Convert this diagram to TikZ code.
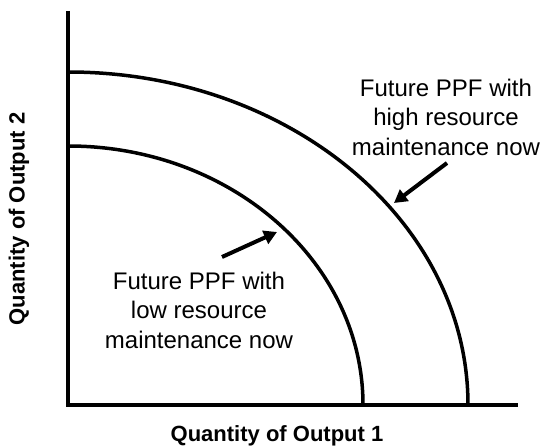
\documentclass[tikz,border=0pt]{standalone}
\usepackage{fontspec}
\setmainfont{Liberation Sans}
\usetikzlibrary{arrows.meta}
\begin{document}
\begin{tikzpicture}[x=1pt,y=1pt,
		axis/.style={line width=4.2pt},
		ppf/.style={line width=3.5pt},
		pointer/.style={line width=4pt,-{Triangle[length=13pt,width=14pt]}},
		note/.style={align=center,inner sep=0pt,font=\fontsize{24}{29.5}\selectfont},
		axislabel/.style={inner sep=0pt,font=\fontsize{22}{26}\selectfont\bfseries}]
	\useasboundingbox (0,0) rectangle (541,446);

	\coordinate (origin) at (68,41);
	\coordinate (ytop) at (68,435);
	\coordinate (xend) at (518,41);
	\coordinate (highstart) at (68,374);
	\coordinate (lowstart) at (68,300);

	% axes
	\draw[axis] (ytop) -- (origin) -- (xend);

	% the two frontiers
	\draw[ppf] (highstart) arc[start angle=90, end angle=0, x radius=400, y radius=333];
	\draw[ppf] (lowstart) arc[start angle=90, end angle=0, x radius=295, y radius=259];

	% labels
	\node[note] (hightext) at (446,329) {Future PPF with\\high resource\\maintenance now};
	\node[note] (lowtext) at (199,136) {Future PPF with\\low resource\\maintenance now};
	\node[axislabel] (xlabel) at (277,10) {Quantity of Output 1};
	\node[axislabel,rotate=90] (ylabel) at (19,227) {Quantity of Output 2};

	% pointers
	\coordinate (hightail) at (447,283);
	\coordinate (hightip) at (394,243);
	\coordinate (lowtail) at (222,189);
	\coordinate (lowtip) at (277,214);
	\draw[pointer] (hightail) -- (hightip);
	\draw[pointer] (lowtail) -- (lowtip);
\end{tikzpicture}
\end{document}
